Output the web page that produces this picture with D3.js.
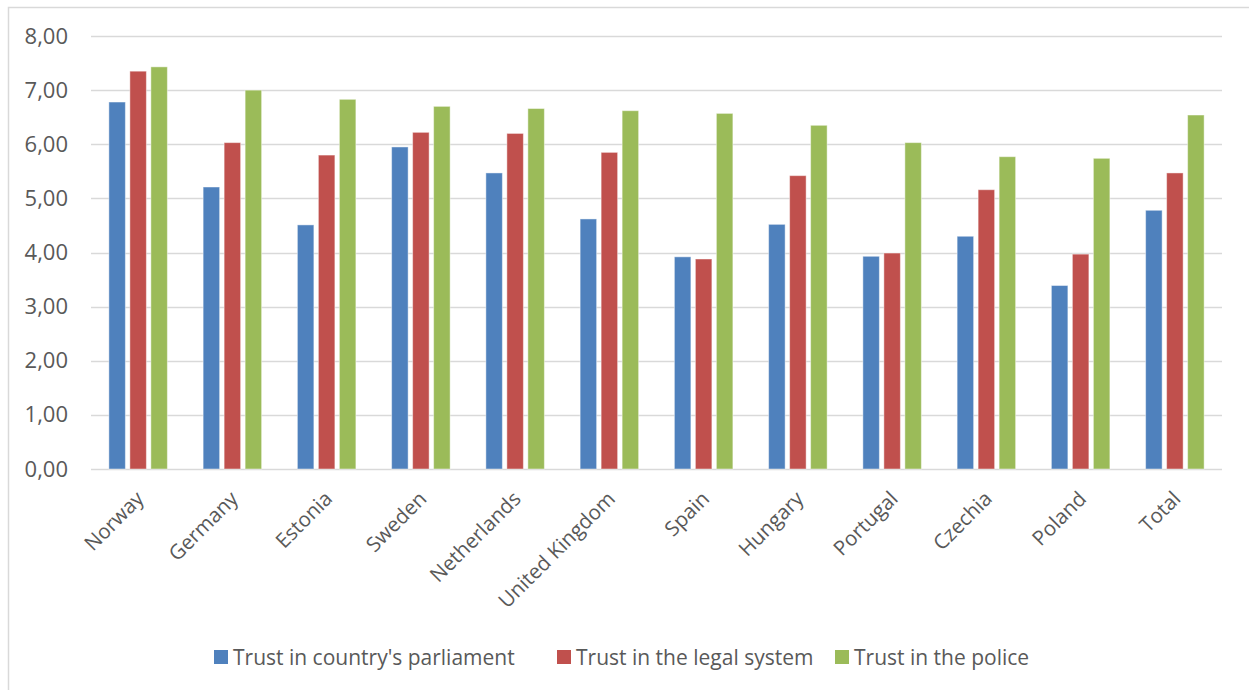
<!DOCTYPE html>
<html>
<head>
<meta charset="utf-8">
<script src="https://cdn.jsdelivr.net/npm/d3@7"></script>
<style>
  body { margin: 0; background: #fff; }
  text { font-family: "Open Sans", "Noto Sans", sans-serif; fill: #595959; }
</style>
</head>
<body>
<div id="chart"></div>
<script>
var countries = ["Norway", "Germany", "Estonia", "Sweden", "Netherlands", "United Kingdom",
                 "Spain", "Hungary", "Portugal", "Czechia", "Poland", "Total"];
var seriesNames = ["Trust in country's parliament", "Trust in the legal system", "Trust in the police"];
var parliament = [6.78, 5.21, 4.51, 5.95, 5.47, 4.62, 3.92, 4.52, 3.93, 4.30, 3.39, 4.78];
var legal      = [7.35, 6.03, 5.80, 6.22, 6.20, 5.85, 3.88, 5.42, 3.99, 5.16, 3.97, 5.47];
var police     = [7.43, 7.00, 6.83, 6.70, 6.66, 6.62, 6.57, 6.35, 6.03, 5.77, 5.74, 6.54];
var yTicks = [0, 1, 2, 3, 4, 5, 6, 7, 8];

var seriesValues = [parliament, legal, police];
var colors = ["#4f81bd", "#c0504d", "#9bbb59"];

var W = 1249, H = 690;
var margin = {top: 36, right: 27, bottom: 221, left: 91},
    width = W - margin.left - margin.right,
    height = H - margin.top - margin.bottom;

var svg = d3.select("#chart").append("svg")
    .attr("width", W)
    .attr("height", H);

svg.append("rect").attr("width", W).attr("height", H).attr("fill", "#fff");

// chart frame (runs off the right and bottom edges)
svg.append("rect")
    .attr("x", 8.5).attr("y", 7.5)
    .attr("width", W + 10).attr("height", H + 10)
    .attr("fill", "none")
    .attr("stroke", "#d9d9d9")
    .attr("stroke-width", 1.5);

var g = svg.append("g")
    .attr("transform", "translate(" + margin.left + "," + margin.top + ")");

var x0 = d3.scaleBand()
    .domain(countries)
    .range([0, width]);

var x1 = d3.scaleBand()
    .domain(seriesNames)
    .range([0, 63]);

var y = d3.scaleLinear()
    .domain([0, 8])
    .range([height, 0]);

// GRIDLINES
g.append("g")
    .selectAll("line")
    .data(yTicks)
    .enter().append("line")
    .attr("x1", 0)
    .attr("x2", width)
    .attr("y1", function(d) { return Math.round(y(d)) + 0.5; })
    .attr("y2", function(d) { return Math.round(y(d)) + 0.5; })
    .attr("stroke", "#d9d9d9")
    .attr("stroke-width", 1.5);

// Y AXIS LABELS
var yAxis = d3.axisLeft(y)
    .tickValues(yTicks)
    .tickSize(0)
    .tickPadding(23)
    .tickFormat(function(d) { return d3.format(".2f")(d).replace(".", ","); });

var ya = g.append("g").call(yAxis);
ya.select(".domain").remove();
ya.selectAll("text")
    .style("font-size", "22px")
    .attr("fill", "#595959");

// BARS
var rows = countries.map(function(c, i) {
    return {
        name: c,
        values: seriesNames.map(function(s, j) { return {series: s, value: seriesValues[j][i], k: j}; })
    };
});

var barW = 16.5;

var group = g.selectAll(".group")
    .data(rows)
    .enter().append("g")
    .attr("class", "group")
    .attr("transform", function(d) {
        return "translate(" + (x0(d.name) + x0.bandwidth() / 2 - 31.5) + ",0)";
    });

group.selectAll("rect")
    .data(function(d) { return d.values; })
    .enter().append("rect")
    .attr("x", function(d) { return x1(d.series) + (x1.bandwidth() - barW) / 2; })
    .attr("width", barW)
    .attr("y", function(d) { return y(d.value); })
    .attr("height", function(d) { return y(0) - y(d.value); })
    .attr("fill", function(d) { return colors[d.k]; })
    .attr("stroke", "#fff")
    .attr("stroke-opacity", 0.45)
    .attr("stroke-width", 1);

// CATEGORY LABELS
g.append("g")
    .selectAll("text")
    .data(countries)
    .enter().append("text")
    .attr("transform", function(d) {
        return "translate(" + (x0(d) + x0.bandwidth() / 2 + 7) + "," + (height + 31) + ") rotate(-45)";
    })
    .attr("text-anchor", "end")
    .style("font-size", "20.5px")
    .text(function(d) { return d; });

// LEGEND
var legendX = [214, 557, 835];
var legend = svg.append("g")
    .selectAll("g")
    .data(seriesNames)
    .enter().append("g")
    .attr("transform", function(d, i) { return "translate(" + legendX[i] + ",650)"; });

legend.append("rect")
    .attr("width", 14)
    .attr("height", 14)
    .attr("fill", function(d, i) { return colors[i]; });

legend.append("text")
    .attr("x", 19)
    .attr("y", 15)
    .style("font-size", "21px")
    .text(function(d) { return d; });
</script>
</body>
</html>
